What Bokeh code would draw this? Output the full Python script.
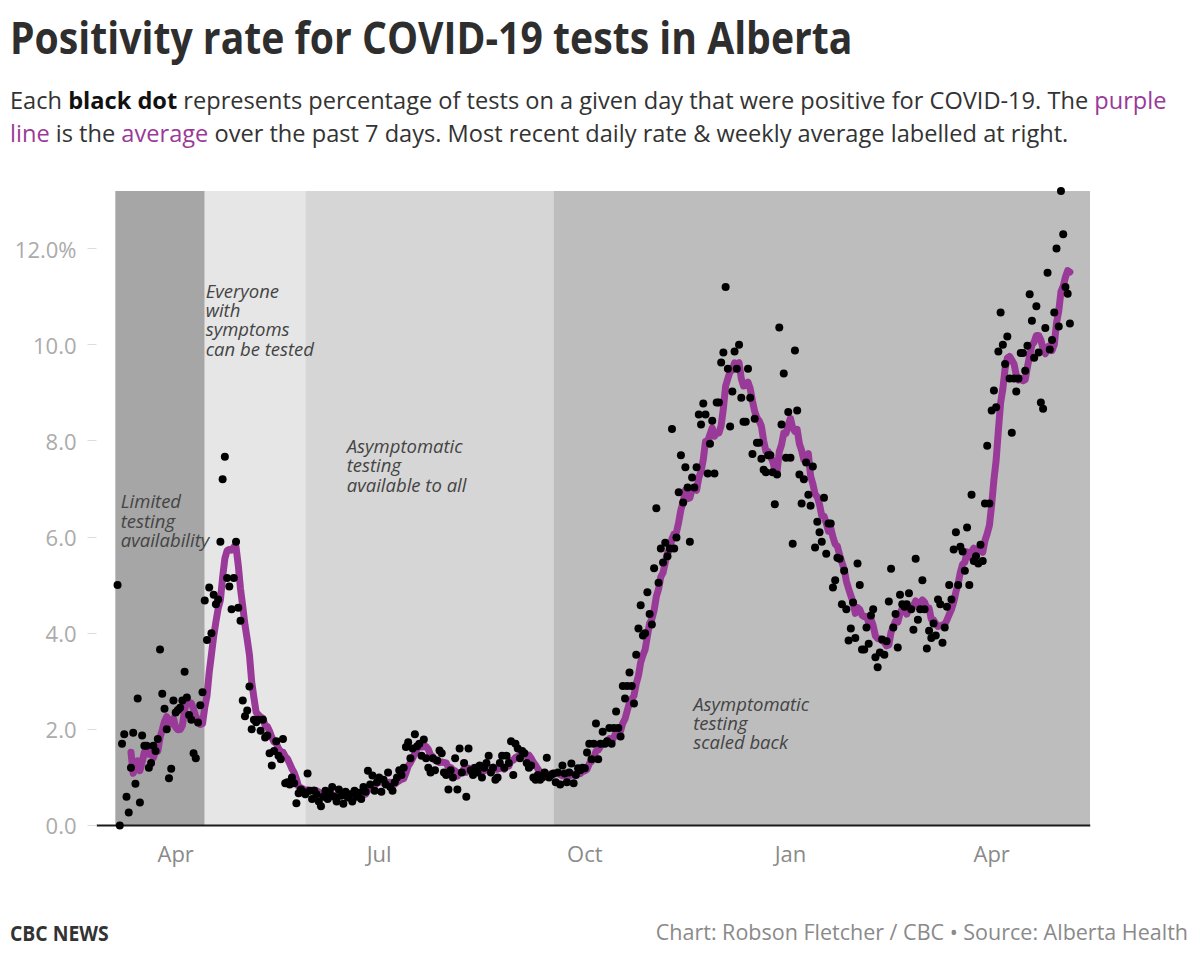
import pandas as pd
from bokeh.plotting import figure
from bokeh.models import Range1d, FixedTicker, DatetimeTickFormatter, Label, Div, ColumnDataSource
from bokeh.layouts import column
from bokeh.embed import file_html
from bokeh.resources import INLINE

# ---------------- data (daily % of tests positive, Alberta) ----------------
start_date = "2020-03-06"
rate_2020_03 = [5.0, 0.0, 1.7, 1.9, 0.6, 0.27, 1.2, 1.93, 0.87, 2.64, 0.48, 1.87, 1.66,
                1.66, 1.2, 1.3, 1.66, 1.55, 1.8, 3.66, 2.74, 2.43, 2.0, 0.98, 1.18, 2.6]
rate_2020_04 = [2.35, 2.4, 2.45, 2.6, 3.2, 2.66, 2.3, 2.2, 1.5, 1.4, 2.14, 2.5, 2.77, 4.68,
                3.86, 4.95, 4.0, 4.8, 4.6, 4.7, 5.9, 7.2, 7.67, 5.15, 4.97, 4.5, 5.15, 5.9,
                4.53, 4.26]
rate_2020_05 = [2.6, 2.27, 2.39, 2.89, 2.0, 2.2, 2.15, 2.2, 1.97, 2.2, 1.83, 1.87, 1.5, 1.25,
                1.55, 1.75, 1.45, 1.38, 1.8, 0.88, 0.9, 0.85, 1.0, 0.88, 0.46, 0.67, 0.75,
                0.7, 0.65, 1.08, 0.72]
rate_2020_06 = [0.55, 0.72, 0.65, 0.5, 0.4, 0.6, 0.72, 0.55, 0.68, 0.8, 0.6, 0.5, 0.75, 0.62,
                0.45, 0.7, 0.58, 0.65, 0.5, 0.72, 0.6, 0.68, 0.55, 0.8, 0.7, 1.14, 0.85,
                1.04, 0.72, 0.9]
rate_2020_07 = [1.0, 0.7, 0.95, 0.85, 1.1, 0.8, 0.72, 0.9, 1.0, 1.15, 1.05, 1.2, 1.63, 1.73,
                1.4, 1.6, 1.9, 1.65, 1.7, 1.45, 1.79, 1.4, 1.2, 1.1, 1.4, 1.15, 1.35, 1.56,
                1.5, 1.1, 1.05]
rate_2020_08 = [0.75, 1.15, 1.0, 1.4, 0.75, 1.6, 1.1, 1.3, 0.6, 1.6, 1.15, 1.05, 1.2, 1.1,
                1.25, 1.0, 1.2, 1.3, 1.45, 1.1, 1.2, 0.95, 1.0, 1.3, 1.45, 1.2, 1.45, 1.3,
                1.75, 1.05, 1.7]
rate_2020_09 = [1.6, 1.4, 1.55, 1.5, 1.3, 1.2, 1.25, 1.0, 0.95, 1.05, 0.95, 1.0, 1.1, 1.41,
                1.0, 1.05, 1.08, 0.9, 1.1, 0.85, 1.25, 1.08, 0.9, 1.1, 1.29, 0.88, 1.05,
                1.19, 1.15, 1.2]
rate_2020_10 = [1.19, 1.52, 1.7, 1.38, 1.7, 2.12, 1.38, 1.7, 1.95, 1.7, 1.75, 2.03, 1.7, 2.03,
                2.37, 2.03, 1.85, 2.9, 2.64, 2.9, 3.18, 2.9, 2.54, 3.55, 4.1, 4.58, 3.95, 4.0,
                4.85, 4.4, 4.18]
rate_2020_11 = [5.35, 6.6, 5.05, 5.76, 5.47, 5.88, 5.6, 5.76, 8.25, 5.76, 5.99, 6.93, 7.7,
                6.72, 7.45, 7.03, 5.9, 7.24, 7.03, 7.45, 8.55, 8.34, 8.78, 8.55, 7.32, 7.94,
                8.42, 7.32, 8.8, 8.8]
rate_2020_12 = [9.63, 9.84, 11.2, 9.5, 8.3, 9.03, 9.86, 9.5, 10.0, 8.9, 8.4, 8.4, 9.5, 8.9,
                7.73, 8.46, 7.96, 7.96, 7.63, 7.4, 7.35, 7.7, 7.7, 7.35, 6.68, 7.3, 10.36,
                8.34, 9.4, 7.65, 8.6]
rate_2021_01 = [7.65, 5.86, 9.88, 8.63, 7.3, 6.7, 7.2, 7.55, 6.88, 6.65, 7.47, 5.78, 6.32,
                6.1, 5.9, 6.82, 5.65, 6.28, 6.28, 4.95, 5.1, 5.57, 5.55, 4.6, 5.3, 4.5, 3.85,
                4.1, 4.64, 3.9, 5.45]
rate_2021_02 = [5.0, 3.66, 3.66, 4.12, 3.78, 4.37, 4.5, 3.5, 3.29, 3.6, 3.87, 3.55, 3.83,
                4.66, 5.34, 4.12, 4.4, 3.7, 4.8, 4.6, 4.55, 4.6, 4.83, 4.5, 4.07, 5.55, 4.28,
                4.5]
rate_2021_03 = [5.1, 4.5, 3.68, 4.05, 3.9, 4.2, 3.95, 4.7, 4.6, 3.8, 4.12, 4.55, 5.0, 4.7,
                5.74, 6.1, 5.0, 5.8, 5.7, 5.3, 6.2, 5.0, 6.88, 5.5, 5.6, 5.45, 5.84, 5.5, 6.7,
                7.9, 6.7]
rate_2021_04 = [8.63, 9.05, 8.7, 9.86, 10.67, 10.0, 9.6, 10.17, 9.3, 8.17, 9.3, 9.03, 9.3,
                9.83, 9.83, 9.46, 9.98, 11.05, 10.5, 9.73, 10.8, 9.84, 8.8, 8.67, 10.35, 11.5,
                9.9, 10.1, 10.67, 12.0]
rate_2021_05 = [10.38, 13.2, 12.3, 11.2, 11.06, 10.44]

latest_daily_label = 10.44
latest_average_label = 11.52

# testing-policy phases
phase_starts = ["2020-03-05", "2020-04-14", "2020-05-29", "2020-09-17"]
phase_ends = ["2020-04-14", "2020-05-29", "2020-09-17", "2021-05-15"]
phase_names = ["Limited\ntesting\navailability",
               "Everyone\nwith\nsymptoms\ncan be tested",
               "Asymptomatic\ntesting\navailable to all",
               "Asymptomatic\ntesting\nscaled back"]

y_ticks = [0, 2, 4, 6, 8, 10, 12]
y_tick_labels = ["0.0", "2.0", "4.0", "6.0", "8.0", "10.0", "12.0%"]
x_ticks = ["2020-04-01", "2020-07-01", "2020-10-01", "2021-01-01", "2021-04-01"]
x_tick_labels = ["Apr", "Jul", "Oct", "Jan", "Apr"]

# ---------------- build ----------------
daily_rate = (rate_2020_03 + rate_2020_04 + rate_2020_05 + rate_2020_06 + rate_2020_07 +
              rate_2020_08 + rate_2020_09 + rate_2020_10 + rate_2020_11 + rate_2020_12 +
              rate_2021_01 + rate_2021_02 + rate_2021_03 + rate_2021_04 + rate_2021_05)
dates = pd.date_range(start_date, periods=len(daily_rate), freq="D")
avg_7day = pd.Series(daily_rate).rolling(7).mean()

src = ColumnDataSource(dict(date=dates, rate=daily_rate, avg=avg_7day))


def ms(s):
    return pd.Timestamp(s).value / 1e6


PURPLE = "#9a3a98"
FONT = "Open Sans"

p = figure(width=1200, height=740, x_axis_type="datetime",
           x_range=Range1d(ms("2020-02-25 14:00"), ms("2021-05-15 05:00")),
           y_range=Range1d(-0.25, 13.5),
           output_backend="svg", toolbar_location=None,
           min_border_left=96, min_border_right=110, min_border_top=16, min_border_bottom=63)
p.outline_line_color = None
p.grid.visible = False
p.background_fill_color = "white"
p.border_fill_color = "white"

phase_src = ColumnDataSource(dict(
    left=pd.to_datetime(phase_starts), right=pd.to_datetime(phase_ends),
    color=["#a6a6a6", "#e6e6e6", "#d6d6d6", "#bdbdbd"]))
p.quad(left="left", right="right", bottom=0, top=13.2, fill_color="color",
       line_color=None, source=phase_src)

p.hspan(y=[0], line_color="#1a1a1a", line_width=2)

p.line("date", "avg", source=src, line_color=PURPLE, line_width=7,
       line_join="round", line_cap="round")
p.scatter("date", "rate", source=src, size=8, fill_color="black", line_color=None)

# phase annotations
label_pos = [("2020-03-07 10:00", 7.01), ("2020-04-14 10:00", 11.39),
             ("2020-06-16 12:00", 8.16), ("2020-11-18 12:00", 2.80)]
for name, (lx, ly) in zip(phase_names, label_pos):
    p.add_layout(Label(x=ms(lx), y=ly, text=name, text_font=FONT, text_font_style="italic",
                       text_font_size="18.5px", text_color="#444444", text_baseline="top",
                       text_line_height=0.77))

# latest values at right
last_x = ms(dates[-1])
p.add_layout(Label(x=last_x, y=latest_average_label, text=f"{latest_average_label:.2f}%",
                   x_offset=20, y_offset=-17, text_font=FONT, text_font_size="22px",
                   text_color=PURPLE, text_baseline="alphabetic"))
p.add_layout(Label(x=last_x, y=latest_daily_label, text=f"{latest_daily_label:.2f}%",
                   x_offset=20, y_offset=-15, text_font=FONT, text_font_size="22px",
                   text_color="#111111", text_baseline="alphabetic"))

# axes
p.xaxis.ticker = FixedTicker(ticks=[ms(t) for t in x_ticks])
p.xaxis.formatter = DatetimeTickFormatter(days="%b", months="%b", years="%b")
p.xaxis.major_label_overrides = {ms(t): l for t, l in zip(x_ticks, x_tick_labels)}
p.xaxis.axis_line_color = None
p.xaxis.major_tick_line_color = None
p.xaxis.minor_tick_line_color = None
p.xaxis.major_tick_out = 0
p.xaxis.major_tick_in = 0
p.xaxis.major_label_standoff = 0
p.xaxis.major_label_text_font = FONT
p.xaxis.major_label_text_font_size = "22px"
p.xaxis.major_label_text_color = "#8a8a8a"

p.yaxis.ticker = FixedTicker(ticks=y_ticks)
p.yaxis.major_label_overrides = {t: l for t, l in zip(y_ticks, y_tick_labels)}
p.yaxis.axis_line_color = None
p.yaxis.major_tick_line_color = "#dddddd"
p.yaxis.major_tick_out = 9
p.yaxis.major_tick_in = 0
p.yaxis.minor_tick_line_color = None
p.yaxis.major_label_standoff = 11
p.yaxis.major_label_text_font = FONT
p.yaxis.major_label_text_font_size = "22px"
p.yaxis.major_label_text_color = "#ababab"

# ---------------- text blocks ----------------
title = Div(
    text=("<div style=\"font-family:'Open Sans';font-weight:700;font-size:44px;"
          "line-height:44px;color:#2e2e2e;white-space:nowrap;padding:15px 0 0 10px;\">"
          "<span style=\"display:inline-block;transform:scaleX(0.89);transform-origin:0 0;\">"
          "Positivity rate for COVID-19 tests in Alberta</span></div>"),
    width=1200, height=70, margin=(0, 0, 0, 0))

subtitle = Div(
    text=("<div style=\"font-family:'Open Sans';font-size:23.6px;line-height:33px;color:#333;"
          "white-space:nowrap;padding:14px 0 0 10px;\">"
          "Each <b style=\"color:#111\">black dot</b> represents percentage of tests on a given day "
          "that were positive for COVID-19. The <span style=\"color:#9a3a98\">purple</span><br>"
          "<span style=\"color:#9a3a98\">line</span> is the "
          "<span style=\"color:#9a3a98\">average</span> over the past 7 days. Most recent daily "
          "rate &amp; weekly average labelled at right.</div>"),
    width=1200, height=90, margin=(0, 0, 0, 0))

footer = Div(
    text=("<div style=\"font-family:'Open Sans';position:relative;width:1200px;height:64px;\">"
          "<span style=\"position:absolute;left:10px;top:19px;font-weight:700;font-size:22px;"
          "line-height:26px;color:#333;display:inline-block;transform:scaleX(0.88);"
          "transform-origin:0 50%;white-space:nowrap;\">CBC NEWS</span>"
          "<span style=\"position:absolute;right:12px;top:19px;font-size:21.5px;line-height:26px;"
          "color:#8a8a8a;white-space:nowrap;\">"
          "Chart: Robson Fletcher / CBC \u2022 Source: Alberta Health</span></div>"),
    width=1200, height=64, margin=(0, 0, 0, 0))

layout = column(title, subtitle, p, footer, spacing=0)

with open("out.html", "w") as f:
    f.write(file_html(layout, INLINE))
